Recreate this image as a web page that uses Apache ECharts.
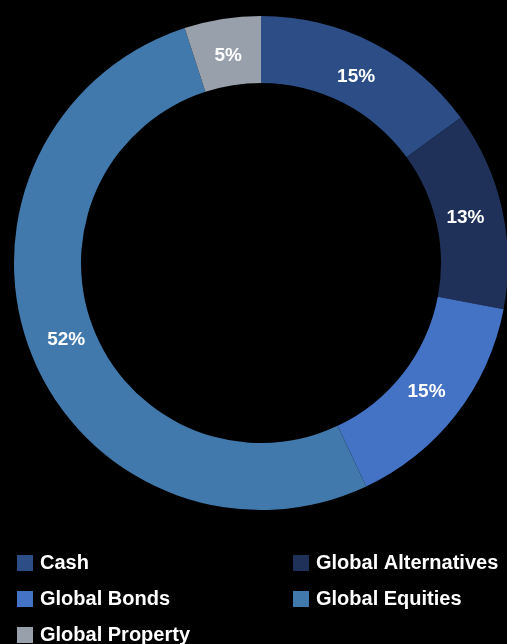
<!DOCTYPE html>
<html>
<head>
<meta charset="utf-8">
<script src="https://cdn.jsdelivr.net/npm/echarts@6/dist/echarts.min.js"></script>
<style>
  html, body { margin: 0; padding: 0; background: #000; }
  #allocation { width: 507px; height: 644px; }
</style>
</head>
<body>
<div id="allocation"></div>
<script>
// asset allocation data
const categories = ['Cash', 'Global Alternatives', 'Global Bonds', 'Global Equities', 'Global Property'];
const shares = [15, 13, 15, 52, 5];
const colors = ['#2C4D86', '#1F3158', '#4472C4', '#4279AD', '#98A0AC'];
const leftLegend = ['Cash', 'Global Bonds', 'Global Property'];
const rightLegend = ['Global Alternatives', 'Global Equities'];

const myChart = echarts.init(document.getElementById('allocation'));
const font = 'Liberation Sans, Arial, sans-serif';
const pieData = categories.map((name, i) => ({ name: name, value: shares[i] }));
const legendBase = {
  orient: 'vertical',
  top: 552,
  height: 100,
  padding: 0,
  itemWidth: 16,
  itemHeight: 16,
  itemGap: 14,
  icon: 'rect',
  selectedMode: false,
  textStyle: {
    color: '#fff',
    fontSize: 20,
    fontWeight: 'bold',
    fontFamily: font,
    lineHeight: 22,
    padding: [0, 0, 0, 2]
  }
};
const chartOption = {
  backgroundColor: '#000',
  color: colors,
  animation: false,
  legend: [
    Object.assign({}, legendBase, { left: 17, data: leftLegend }),
    Object.assign({}, legendBase, { left: 293, data: rightLegend })
  ],
  series: [{
    // ring
    type: 'pie',
    center: [261, 263],
    radius: [180, 247],
    startAngle: 90,
    label: { show: false },
    labelLine: { show: false },
    itemStyle: { borderWidth: 0 },
    emphasis: { disabled: true },
    data: pieData
  }, {
    // labels only, sit a little inside the ring middle
    type: 'pie',
    center: [261, 263],
    radius: [166, 247],
    startAngle: 90,
    silent: true,
    z: 3,
    itemStyle: { color: 'transparent', borderWidth: 0 },
    label: {
      show: true,
      position: 'inside',
      formatter: '{c}%',
      color: '#fff',
      fontSize: 19,
      fontWeight: 'bold',
      fontFamily: font
    },
    labelLine: { show: false },
    emphasis: { disabled: true },
    data: pieData
  }]
};
myChart.setOption(chartOption);
</script>
</body>
</html>
